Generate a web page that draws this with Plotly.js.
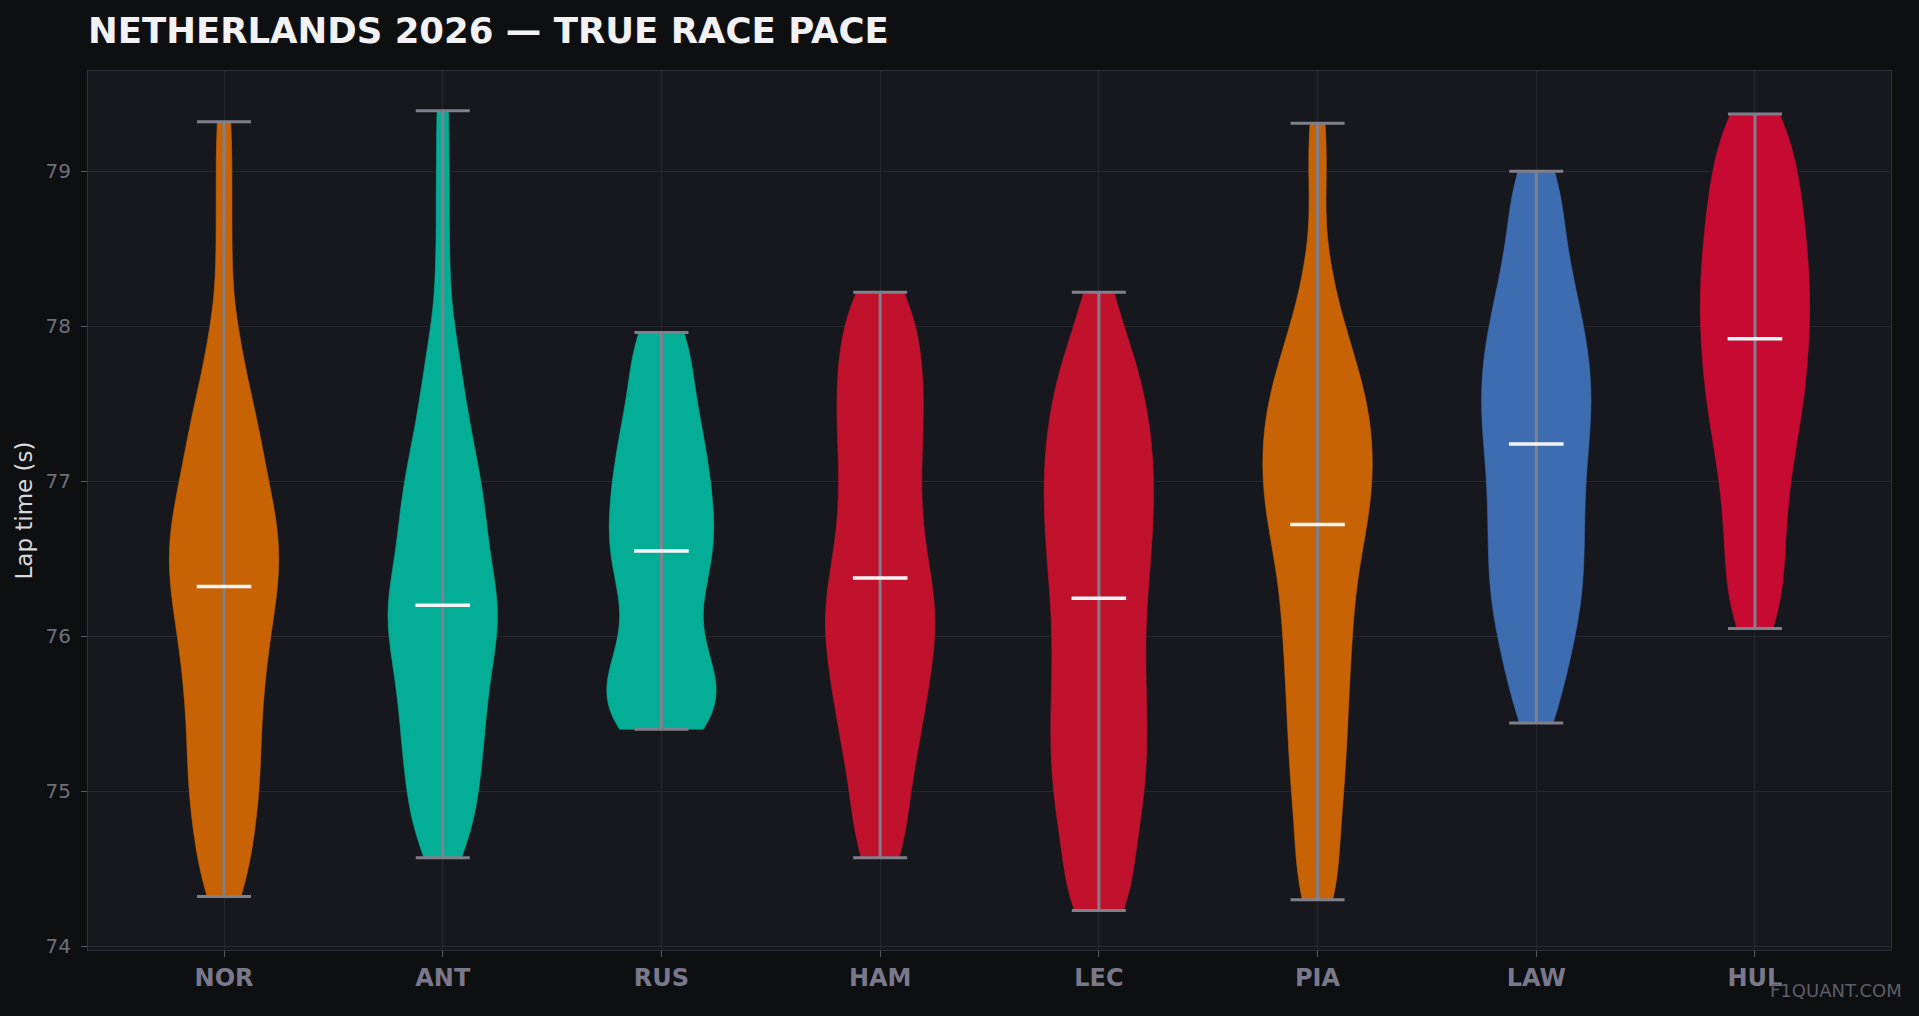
<!DOCTYPE html>
<html>
<head>
<meta charset="utf-8">
<script src="https://cdn.plot.ly/plotly-3.0.1.min.js"></script>
<style>
  html, body { margin: 0; padding: 0; background: #0e0f11; }
  #chart { width: 1919px; height: 1016px; }
</style>
</head>
<body>
<div id="chart"></div>
<script>
// ---- data: lap times (s) per driver ----
const drivers = ['NOR', 'ANT', 'RUS', 'HAM', 'LEC', 'PIA', 'LAW', 'HUL'];
const teamColors = ['#c76304', '#04ae96', '#04ae96', '#c0122d', '#c0122d', '#c76304', '#3d6cb0', '#c60a32'];

const nor = [74.32, 74.42, 74.56, 74.68, 74.79, 74.89, 74.98, 75.07, 75.16, 75.25, 75.34, 75.43, 75.52, 75.61, 75.69, 75.77, 75.85, 75.925, 76.00, 76.07, 76.14, 76.21, 76.27, 76.32, 76.38, 76.445, 76.505, 76.56, 76.615, 76.67, 76.73, 76.79, 76.855, 76.925, 77.00, 77.08, 77.16, 77.245, 77.335, 77.43, 77.54, 77.66, 77.85, 78.06, 78.48, 78.9, 79.32];
const ant = [74.57, 74.67, 74.77, 74.86, 74.95, 75.035, 75.115, 75.195, 75.27, 75.345, 75.42, 75.49, 75.56, 75.63, 75.70, 75.765, 75.83, 75.89, 75.95, 76.01, 76.065, 76.115, 76.16, 76.20, 76.25, 76.31, 76.37, 76.43, 76.50, 76.57, 76.64, 76.71, 76.78, 76.85, 76.92, 76.99, 77.07, 77.16, 77.26, 77.37, 77.49, 77.63, 77.80, 78.0, 78.43, 78.9, 79.39];
const rus = [75.40, 75.42, 75.46, 75.427, 75.482, 75.536, 75.59, 75.645, 75.65, 75.699, 75.754, 75.808, 75.863, 75.93, 76.01, 76.10, 76.19, 76.28, 76.36, 76.424, 76.45, 76.487, 76.55, 76.597, 76.651, 76.706, 76.76, 76.815, 76.869, 76.923, 76.978, 77.032, 77.086, 77.15, 77.216, 77.283, 77.349, 77.416, 77.483, 77.569, 77.681, 77.792, 77.904, 77.93, 77.96];
const ham = [74.57, 74.648, 74.805, 74.961, 75.082, 75.19, 75.298, 75.399, 75.481, 75.563, 75.645, 75.727, 75.807, 75.874, 75.941, 76.008, 76.076, 76.142, 76.208, 76.273, 76.338, 76.412, 76.495, 76.578, 76.669, 76.763, 76.855, 76.948, 77.044, 77.139, 77.234, 77.322, 77.407, 77.493, 77.578, 77.666, 77.755, 77.843, 77.932, 78.039, 78.159, 78.22];
const lec = [74.23, 74.27, 74.424, 74.554, 74.683, 74.799, 74.893, 74.988, 75.082, 75.175, 75.264, 75.354, 75.443, 75.532, 75.626, 75.72, 75.815, 75.909, 76.004, 76.098, 76.193, 76.297, 76.371, 76.459, 76.546, 76.63, 76.709, 76.789, 76.868, 76.947, 77.026, 77.106, 77.185, 77.264, 77.344, 77.432, 77.528, 77.624, 77.72, 77.826, 77.983, 78.22];
const pia = [74.30, 74.408, 74.613, 74.77, 74.928, 75.068, 75.194, 75.319, 75.445, 75.568, 75.681, 75.794, 75.906, 76.017, 76.117, 76.217, 76.318, 76.419, 76.504, 76.59, 76.677, 76.72, 76.818, 76.881, 76.945, 77.008, 77.071, 77.135, 77.202, 77.269, 77.336, 77.404, 77.471, 77.538, 77.606, 77.695, 77.796, 77.897, 78.0, 78.188, 78.437, 78.909, 79.31];
const law = [75.44, 75.56, 75.70, 75.81, 75.91, 76.00, 76.08, 76.16, 76.23, 76.30, 76.37, 76.44, 76.51, 76.58, 76.65, 76.72, 76.79, 76.86, 76.93, 77.00, 77.07, 77.14, 77.206, 77.273, 77.33, 77.39, 77.45, 77.51, 77.57, 77.63, 77.69, 77.75, 77.81, 77.875, 77.94, 78.01, 78.08, 78.16, 78.24, 78.33, 78.43, 78.54, 78.66, 78.80, 78.93, 79.0];
const hul = [76.05, 76.16, 76.28, 76.40, 76.52, 76.64, 76.75, 76.86, 76.97, 77.07, 77.16, 77.25, 77.33, 77.41, 77.48, 77.55, 77.62, 77.69, 77.755, 77.82, 77.888, 77.951, 78.014, 78.077, 78.14, 78.203, 78.266, 78.329, 78.392, 78.454, 78.521, 78.593, 78.664, 78.736, 78.807, 78.879, 78.95, 79.03, 79.127, 79.224, 79.322, 79.37];

const lapSets = [nor, ant, rus, ham, lec, pia, law, hul];
const kdeBandwidth = 0.25;

// ---- helpers ----
function median(a) {
  const s = a.slice().sort((p, q) => p - q);
  const m = Math.floor(s.length / 2);
  return s.length % 2 ? s[m] : (s[m - 1] + s[m]) / 2;
}

const traces = [];
drivers.forEach((d, i) => {
  traces.push({
    type: 'violin',
    x: lapSets[i].map(() => d),
    y: lapSets[i],
    name: d,
    fillcolor: teamColors[i],
    line: { color: teamColors[i], width: 0.6 },
    opacity: 1,
    points: false,
    box: { visible: false },
    meanline: { visible: false },
    spanmode: 'hard',
    bandwidth: kdeBandwidth,
    scalemode: 'width',
    width: 0.5,
    hoverinfo: 'skip',
    showlegend: false
  });
});

// extrema bars (min/max caps + vertical line)
const meds = lapSets.map(median);
const mins = lapSets.map(a => Math.min(...a));
const maxs = lapSets.map(a => Math.max(...a));
traces.push({
  type: 'scatter',
  mode: 'markers',
  x: drivers,
  y: meds,
  marker: { size: 1, opacity: 0 },
  error_y: {
    type: 'data',
    symmetric: false,
    array: maxs.map((v, i) => v - meds[i]),
    arrayminus: meds.map((v, i) => v - mins[i]),
    color: '#80808c',
    thickness: 3,
    width: 27
  },
  hoverinfo: 'skip',
  showlegend: false
});
// medians
traces.push({
  type: 'scatter',
  mode: 'markers',
  x: drivers,
  y: meds,
  marker: { symbol: 'line-ew', size: 39, line: { width: 3.5, color: '#f4f4f6' } },
  hoverinfo: 'skip',
  showlegend: false
});

const layout = {
  width: 1919,
  height: 1016,
  paper_bgcolor: '#0e0f11',
  plot_bgcolor: '#17181d',
  font: { family: 'DejaVu Sans', color: '#d8d8dd' },
  margin: { l: 88, r: 28, t: 71, b: 66 },
  violinmode: 'overlay',
  title: {
    text: 'NETHERLANDS 2026 — TRUE RACE PACE',
    font: { family: 'DejaVu Sans', size: 35.5, color: '#f2f2f5', weight: 'bold' },
    xref: 'container', x: 88 / 1919, xanchor: 'left',
    yref: 'container', y: 1 - 31 / 1016, yanchor: 'middle'
  },
  xaxis: {
    type: 'category',
    categoryorder: 'array',
    categoryarray: drivers,
    range: [-0.622, 7.622],
    showgrid: true,
    gridcolor: '#26272d',
    gridwidth: 1,
    showline: true,
    mirror: true,
    linecolor: '#2f3038',
    linewidth: 1,
    ticks: 'outside',
    ticklen: 6,
    tickcolor: '#5a5a66',
    tickfont: { family: 'DejaVu Sans', size: 24, color: '#7a798b', weight: 'bold' },
    zeroline: false
  },
  yaxis: {
    range: [73.975, 79.647],
    tickvals: [74, 75, 76, 77, 78, 79],
    ticktext: ['74', '75', '76', '77', '78', '79'],
    showgrid: true,
    gridcolor: '#26272d',
    gridwidth: 1,
    showline: true,
    mirror: true,
    linecolor: '#2f3038',
    linewidth: 1,
    ticks: 'outside',
    ticklen: 6,
    tickcolor: '#5a5a66',
    ticklabelstandoff: 6,
    tickfont: { family: 'DejaVu Sans', size: 20, color: '#6f6f7b' },
    zeroline: false,
    title: { text: 'Lap time (s)', font: { family: 'DejaVu Sans', size: 23, color: '#d8d8dd' }, standoff: 6 }
  },
  annotations: [{
    text: 'F1QUANT.COM',
    xref: 'paper', yref: 'paper',
    x: 1.0072, y: -0.0466,
    xanchor: 'right', yanchor: 'middle',
    showarrow: false,
    font: { family: 'DejaVu Sans', size: 18, color: '#5e5e6a' }
  }]
};

Plotly.newPlot('chart', traces, layout, { displayModeBar: false, staticPlot: true });
</script>
</body>
</html>
